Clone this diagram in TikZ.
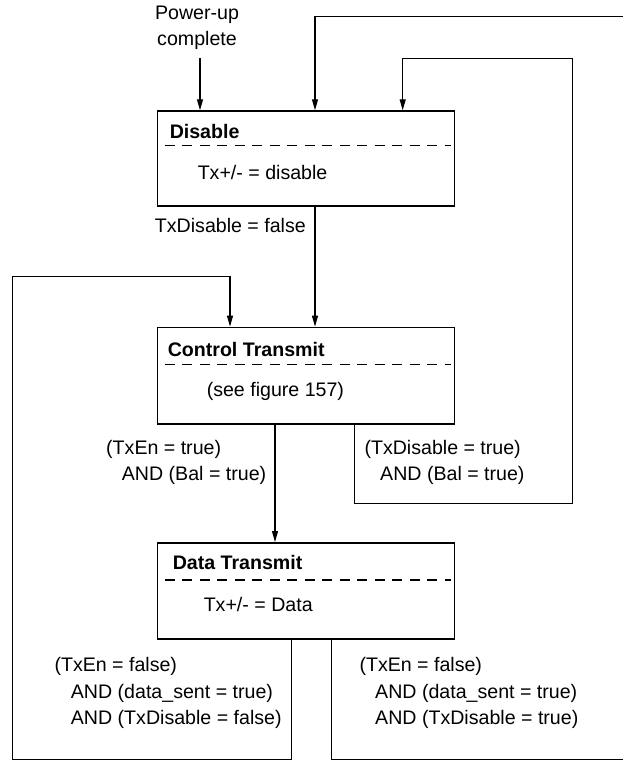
\documentclass[tikz,border=0pt]{standalone}
\usepackage{fontspec}
\setmainfont{Liberation Sans}
\usetikzlibrary{arrows.meta,positioning}
\newcommand{\labelfont}{\fontsize{19.6}{26.3}\selectfont}
\tikzset{
   line/.style    = {-, line width=1.1pt, },
   arrow/.style   = {-{Triangle[length=11pt,width=6pt]}, line width=1.1pt, },
   state/.style   = {rectangle, draw, line width=1.5pt, minimum width=297pt, minimum height=96pt, },
   title/.style   = {anchor=west, inner sep=0pt, font=\labelfont\bfseries, },
   body/.style    = {anchor=west, inner sep=0pt, },
   cond/.style    = {anchor=west, inner sep=0pt, align=left, },
   divider/.style = {line width=1.1pt, dash pattern=on 10pt off 7.5pt, },
}

\begin{document}
\begin{tikzpicture}[x=1pt, y=-1pt, font=\labelfont]
   \useasboundingbox (0,0) rectangle (623,761);
   \clip (0,0) rectangle (623,761);

   % the three states
   \node[state, minimum height=94.7pt] (disable) at (305.8,158.4) {};
   \node[state, minimum height=96.7pt] (control) at (305.8,375.7) {};
   \node[state, minimum height=96.3pt] (data)    at (305.8,590.9) {};

   \node[title] (disabletitle) at ([shift={(13pt,-21pt)}]disable.north west) {Disable};
   \node[body]  (disablebody)  at ([shift={(41pt,-62pt)}]disable.north west) {Tx+/- = disable};
   \draw[divider] ([shift={(8pt,-35pt)}]disable.north west) -- ([shift={(-4pt,-35pt)}]disable.north east);

   \node[title] (controltitle) at ([shift={(11pt,-23pt)}]control.north west) {Control Transmit};
   \node[body]  (controlbody)  at ([shift={(50pt,-64.4pt)}]control.north west) {(see figure 157)};
   \draw[divider] ([shift={(8pt,-38pt)}]control.north west) -- ([shift={(-4pt,-38pt)}]control.north east);

   \node[title] (datatitle) at ([shift={(16pt,-20.7pt)}]data.north west) {Data Transmit};
   \node[body]  (databody)  at ([shift={(47pt,-62.3pt)}]data.north west) {Tx+/- = Data};
   \draw[divider] ([shift={(8pt,-38pt)}]data.north west) -- ([shift={(-4pt,-38pt)}]data.north east);

   % power-up entry
   \node[align=center, inner sep=0pt] (powerup) at (197,28) {Power-up\\complete};
   \coordinate (powerin) at (200,58);
   \draw[arrow] (powerin) -- (powerin |- disable.north);

   % transition labels
   \node[anchor=east, inner sep=0pt] (txdisfalse) at (306,225) {TxDisable = false};
   \node[cond] (enbal)  at (106,462.5)   {(TxEn = true)\\\hspace*{15.7pt}AND (Bal = true)};
   \node[cond] (disbal) at (364.3,462.5) {(TxDisable = true)\\\hspace*{15.7pt}AND (Bal = true)};
   \node[cond] (sentidle) at (54.3,693)  {(TxEn = false)\\\hspace*{16.4pt}AND (data\_sent = true)\\\hspace*{16.4pt}AND (TxDisable = false)};
   \node[cond] (sentstop) at (359.3,693) {(TxEn = false)\\\hspace*{15.7pt}AND (data\_sent = true)\\\hspace*{15.7pt}AND (TxDisable = true)};

   % straight transitions
   \draw[arrow] ([xshift=9.2pt]disable.south)  -- ([xshift=9.2pt]control.north);
   \draw[arrow] ([xshift=-30.8pt]control.south) -- ([xshift=-30.8pt]data.north);

   % loop corners
   \coordinate (outerbottom) at (640,759.3);
   \coordinate (outertop)    at (640,16.7);
   \coordinate (innerbottom) at (572.7,503.3);
   \coordinate (innertop)    at (572.7,58.3);
   \coordinate (leftbottom)  at (12.3,759.3);
   \coordinate (lefttop)     at (12.3,276.7);

   % loops back
   \draw[arrow] ([xshift=25.9pt]data.south) |- (outerbottom) -- (outertop) -| ([xshift=9.2pt]disable.north);
   \draw[arrow] ([xshift=48.5pt]control.south) |- (innerbottom) -- (innertop) -| ([xshift=96.9pt]disable.north);
   \draw[arrow] ([xshift=-14.1pt]data.south) |- (leftbottom) -- (lefttop) -| ([xshift=-75.8pt]control.north);
\end{tikzpicture}
\end{document}
